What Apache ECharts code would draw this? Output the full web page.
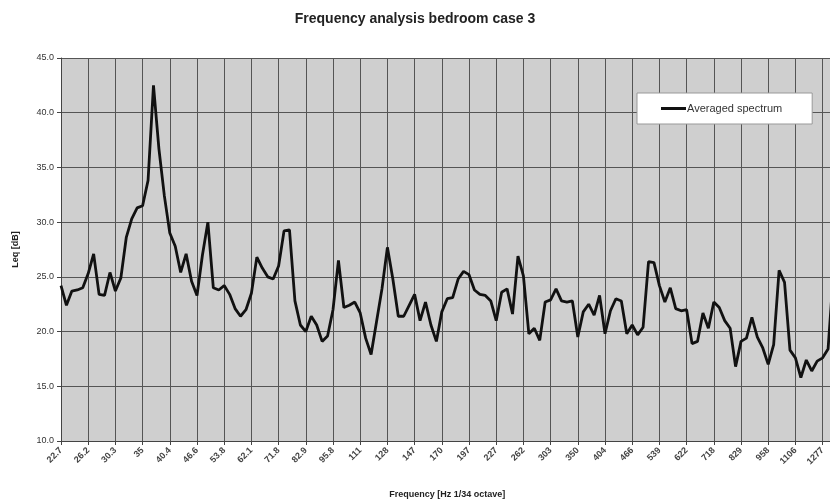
<!DOCTYPE html>
<html>
<head>
<meta charset="utf-8">
<script src="https://cdn.jsdelivr.net/npm/echarts@6/dist/echarts.min.js"></script>
<style>html,body{margin:0;padding:0;background:#fff}#c{width:830px;height:504px}</style>
</head>
<body>
<div id="c"></div>
<script>
// Tick labels shown every 5th 1/24-octave band (Hz)
const tickLabels = ["22.7","26.2","30.3","35","40.4","46.6","53.8","62.1","71.8","82.9","95.8","111","128","147","170","197","227","262","303","350","404","466","539","622","718","829","958","1106","1277"];
// Averaged spectrum, Leq [dB], one value per band
const spectrum = [
24.2,22.4,23.7,23.8,24.0,25.3,27.1,23.4,23.3,25.4,
23.7,24.9,28.6,30.3,31.3,31.5,33.8,42.5,36.7,32.4,
29.0,27.8,25.4,27.1,24.6,23.3,27.0,30.0,24.0,23.8,
24.2,23.4,22.1,21.4,22.0,23.5,26.8,25.8,25.0,24.8,
26.0,29.2,29.3,22.8,20.6,20.0,21.4,20.6,19.1,19.6,
22.0,26.5,22.2,22.4,22.7,21.7,19.4,17.9,20.9,23.9,
27.7,24.8,21.4,21.4,22.4,23.4,21.0,22.7,20.6,19.1,
21.8,23.0,23.1,24.8,25.5,25.2,23.8,23.4,23.3,22.8,
21.0,23.6,23.9,21.6,26.9,25.1,19.8,20.3,19.2,22.7,
22.9,23.9,22.8,22.7,22.8,19.5,21.8,22.5,21.5,23.3,
19.8,21.9,23.0,22.8,19.8,20.6,19.7,20.4,26.4,26.3,
24.2,22.7,24.0,22.1,21.9,22.0,18.9,19.1,21.7,20.3,
22.7,22.2,21.0,20.3,16.8,19.1,19.4,21.3,19.5,18.5,
17.0,18.8,25.6,24.5,18.3,17.6,15.8,17.4,16.4,17.3,
17.6,18.4,25.5
];
const bands = spectrum.map((v, i) => String(i));

const chart = echarts.init(document.getElementById('c'), null, {renderer: 'canvas'});
chart.setOption({
  animation: false,
  backgroundColor: '#ffffff',
  title: {
    text: 'Frequency analysis bedroom case 3',
    left: 'center', top: 7,
    textStyle: {fontFamily: 'Liberation Sans', fontWeight: 'bold', fontSize: 14, color: '#222'}
  },
  legend: {
    data: ['Averaged spectrum'],
    left: 637, top: 93,
    orient: 'vertical',
    backgroundColor: '#ffffff',
    borderColor: '#999', borderWidth: 1,
    padding: [10, 30, 10, 24],
    itemWidth: 25, itemHeight: 3,
    icon: 'rect',
    textStyle: {fontFamily: 'Liberation Sans', fontSize: 11, color: '#333', padding: [0, 0, 0, -4]}
  },
  grid: {left: 61, top: 58, width: 772.5, bottom: 63, show: true, backgroundColor: '#cfcfcf', borderWidth: 0, containLabel: false, outerBoundsMode: 'none'},
  xAxis: {
    type: 'category',
    data: bands,
    boundaryGap: false,
    name: 'Frequency [Hz 1/34 octave]',
    nameLocation: 'middle', nameGap: 49,
    nameTextStyle: {fontFamily: 'Liberation Sans', fontWeight: 'bold', fontSize: 9, color: '#222'},
    axisLine: {lineStyle: {color: '#444', width: 1}},
    axisTick: {show: true, interval: 4, length: 4, lineStyle: {color: '#444'}},
    axisLabel: {
      interval: 4, rotate: 45, margin: 8,
      fontFamily: 'Liberation Sans', fontWeight: 'bold', fontSize: 9, color: '#444',
      formatter: (v, i) => tickLabels[i / 5] || ''
    },
    splitLine: {show: true, interval: 4, lineStyle: {color: '#555', width: 1}}
  },
  yAxis: {
    type: 'value',
    min: 10, max: 45, interval: 5,
    name: 'Leq [dB]',
    nameLocation: 'middle', nameGap: 41, nameRotate: 90,
    nameTextStyle: {fontFamily: 'Liberation Sans', fontWeight: 'bold', fontSize: 9, color: '#222'},
    axisLine: {show: true, lineStyle: {color: '#444', width: 1}},
    axisTick: {show: true, length: 4, lineStyle: {color: '#444'}},
    axisLabel: {fontFamily: 'Liberation Sans', fontSize: 9, color: '#333', margin: 7, formatter: v => v.toFixed(1)},
    splitLine: {show: true, lineStyle: {color: '#555', width: 1}}
  },
  series: [{
    name: 'Averaged spectrum',
    type: 'line',
    data: spectrum,
    symbol: 'none',
    clip: true,
    lineStyle: {color: '#111', width: 2.8},
    itemStyle: {color: '#111'}
  }]
});
</script>
</body>
</html>
